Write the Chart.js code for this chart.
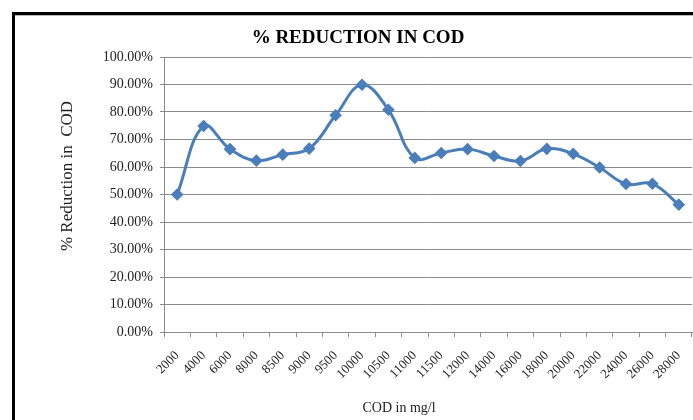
<!DOCTYPE html>
<html>
<head>
<meta charset="utf-8">
<script src="https://cdn.jsdelivr.net/npm/chart.js@4.4.1/dist/chart.umd.min.js"></script>
<style>
  body { margin: 0; background: #fff; }
  #wrap { position: relative; width: 693px; height: 420px; overflow: hidden; background: #fff; }
  #frame {
    position: absolute; left: 12px; top: 12px; width: 900px; height: 600px;
    border-left: 3px solid #000; border-top: 3px solid #000;
    box-shadow: inset 0 1px 0 #bbb;
  }
  #chartBox { position: absolute; left: 0; top: 0; width: 693px; height: 420px; }
</style>
</head>
<body>
<div id="wrap">
  <div id="frame"></div>
  <div id="chartBox"><canvas id="codChart"></canvas></div>
</div>
<script>
const codLabels = ["2000", "4000", "6000", "8000", "8500", "9000", "9500", "10000", "10500", "11000",
  "11500", "12000", "14000", "16000", "18000", "20000", "22000", "24000", "26000", "28000"];
const reductionPct = [50.0, 74.9, 66.5, 62.3, 64.5, 66.7, 78.8, 89.9, 80.8, 63.3,
  65.1, 66.5, 64.0, 62.2, 66.6, 64.8, 59.8, 53.8, 53.9, 46.3];
const yMin = 0, yMax = 100, yStep = 10;

const chartTitle = "% REDUCTION IN COD";
const xTitle = "COD in mg/l";
const yTitle = "% Reduction in  COD";

const lineBlue = "#4a7ebb";
const gridGrey = "#8c8c8c";
const serif = "'Liberation Serif', 'Times New Roman', serif";

// titles sit off-centre in the original, so draw them by hand
const chartTitles = {
  id: "chartTitles",
  afterDraw(chart) {
    const { ctx, chartArea } = chart;
    ctx.save();
    ctx.textAlign = "center";
    ctx.textBaseline = "middle";

    ctx.fillStyle = "#000";
    ctx.font = "bold 19px " + serif;
    ctx.fillText(chartTitle, chartArea.left + 194, chartArea.top - 19);

    ctx.fillStyle = "#222";
    ctx.font = "14px " + serif;
    ctx.fillText(xTitle, chartArea.left + 235, chartArea.bottom + 76);

    ctx.translate(chartArea.left - 96, chartArea.top + 119);
    ctx.rotate(-Math.PI / 2);
    ctx.font = "17px " + serif;
    ctx.fillText(yTitle, 0, 0);
    ctx.restore();
  }
};

new Chart(document.getElementById("codChart"), {
  type: "line",
  data: {
    labels: codLabels,
    datasets: [{
      label: "% Reduction",
      data: reductionPct,
      borderColor: lineBlue,
      backgroundColor: lineBlue,
      borderWidth: 3,
      tension: 0.4,
      pointStyle: "rectRot",
      pointRadius: 4.2,
      pointBackgroundColor: lineBlue,
      pointBorderColor: lineBlue,
      fill: false
    }]
  },
  plugins: [chartTitles],
  options: {
    responsive: true,
    maintainAspectRatio: false,
    animation: false,
    layout: { autoPadding: false, padding: { left: 0, right: 1, top: 57, bottom: 0 } },
    plugins: {
      legend: { display: false },
      tooltip: { enabled: false },
      title: { display: false }
    },
    scales: {
      x: {
        type: "category",
        offset: true,
        grid: { offset: true, drawOnChartArea: false, color: gridGrey, tickLength: 5 },
        border: { color: gridGrey },
        ticks: {
          autoSkip: false,
          maxRotation: 45,
          minRotation: 45,
          padding: 11,
          color: "#222",
          font: { family: serif, size: 13 }
        },
        afterFit(scale) {
          scale.height = 88;
          scale.paddingLeft = 0;
          scale.paddingRight = 0;
        }
      },
      y: {
        min: yMin,
        max: yMax,
        grid: { color: gridGrey, tickLength: 4 },
        border: { color: gridGrey },
        ticks: {
          stepSize: yStep,
          padding: 7,
          color: "#222",
          font: { family: serif, size: 14 },
          callback: v => v.toFixed(2) + "%"
        },
        afterFit(scale) { scale.width = 164; }
      }
    }
  }
});
</script>
</body>
</html>
